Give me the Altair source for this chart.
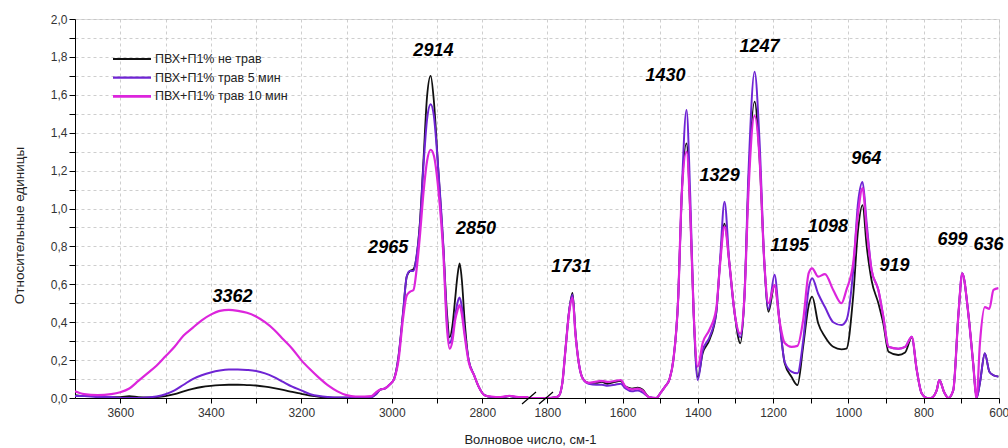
import altair as alt
import pandas as pd

# ---------------- data ----------------
series_names = ["ПВХ+П1% не трав", "ПВХ+П1% трав 5 мин", "ПВХ+П1% трав 10 мин"]
series_colors = ["#111111", "#6f24d4", "#dc25dc"]

# left segment 3700 - 2700 cm-1
wn_left = [3700, 3680, 3650, 3620, 3600, 3580, 3560, 3540, 3520, 3500, 3480, 3460, 3440, 3420,
           3400, 3380, 3360, 3340, 3320, 3300, 3280, 3260, 3240, 3220, 3200, 3180, 3160, 3140,
           3120, 3100, 3080, 3060, 3045, 3035, 3025, 3015, 3005, 2995, 2985, 2975, 2967, 2960,
           2952, 2945, 2938, 2930, 2922, 2914, 2907, 2897, 2886, 2878, 2872, 2866, 2860, 2855,
           2850, 2845, 2839, 2830, 2818, 2808, 2795, 2780, 2760, 2740, 2720, 2700]
black_left = [0.015, 0.01, 0.01, 0.005, 0.005, 0.01, 0.005, 0.003, 0.005, 0.01, 0.02, 0.035, 0.048, 0.058,
              0.064, 0.068, 0.07, 0.07, 0.068, 0.066, 0.06, 0.052, 0.043, 0.032, 0.022, 0.012, 0.006, 0.003,
              0.002, 0.002, 0.003, 0.003, 0.005, 0.02, 0.045, 0.05, 0.07, 0.10, 0.22, 0.45, 0.64, 0.67,
              0.68, 0.75, 0.92, 1.25, 1.59, 1.70, 1.57, 1.20, 0.80, 0.45, 0.32, 0.38, 0.52, 0.64,
              0.71, 0.62, 0.41, 0.20, 0.12, 0.06, 0.015, 0.005, 0.003, 0.01, 0.003, 0.003]
purple_left = [0.01, 0.01, 0.005, 0.005, 0.0, 0.0, 0.0, 0.002, 0.008, 0.02, 0.04, 0.07, 0.10, 0.12,
               0.135, 0.145, 0.15, 0.15, 0.148, 0.143, 0.13, 0.11, 0.085, 0.06, 0.04, 0.02, 0.01, 0.005,
               0.002, 0.002, 0.003, 0.003, 0.005, 0.02, 0.045, 0.05, 0.07, 0.10, 0.22, 0.45, 0.64, 0.67,
               0.67, 0.75, 0.90, 1.22, 1.47, 1.55, 1.49, 1.20, 0.80, 0.40, 0.29, 0.33, 0.43, 0.50,
               0.53, 0.48, 0.35, 0.20, 0.12, 0.06, 0.015, 0.005, 0.003, 0.01, 0.003, 0.003]
magenta_left = [0.035, 0.02, 0.015, 0.02, 0.03, 0.05, 0.09, 0.13, 0.17, 0.22, 0.27, 0.33, 0.37, 0.41,
                0.44, 0.46, 0.465, 0.46, 0.45, 0.43, 0.40, 0.36, 0.31, 0.26, 0.20, 0.15, 0.105, 0.065,
                0.035, 0.015, 0.008, 0.008, 0.01, 0.03, 0.045, 0.05, 0.07, 0.10, 0.20, 0.42, 0.54, 0.56,
                0.57, 0.68, 0.85, 1.08, 1.25, 1.31, 1.28, 1.10, 0.76, 0.37, 0.26, 0.30, 0.41, 0.46,
                0.49, 0.44, 0.33, 0.19, 0.12, 0.06, 0.015, 0.008, 0.005, 0.012, 0.005, 0.005]

# right segment 1850 - 600 cm-1
wn_right = [1850, 1800, 1780, 1770, 1760, 1752, 1742, 1733, 1725, 1716, 1705, 1690, 1670, 1655,
            1640, 1620, 1605, 1592, 1575, 1560, 1547, 1530, 1510, 1498, 1487, 1475, 1465, 1452,
            1443, 1430, 1420, 1411, 1400, 1387, 1369, 1351, 1341, 1329, 1316, 1302, 1287, 1276,
            1265, 1249, 1236, 1223, 1212, 1196, 1183, 1169, 1151, 1135, 1120, 1105, 1096, 1080,
            1062, 1040, 1018, 1005, 987, 974, 962, 951, 938, 920, 907, 893, 867, 849,
            831, 818, 805, 790, 780, 765, 758, 745, 734, 721, 707, 697, 681, 668,
            659, 650, 637, 625, 614, 601]
black_right = [0.0, 0.0, 0.003, 0.01, 0.08, 0.25, 0.46, 0.555, 0.34, 0.18, 0.10, 0.08, 0.08, 0.085,
               0.075, 0.085, 0.09, 0.06, 0.05, 0.055, 0.045, 0.005, 0.0, 0.03, 0.06, 0.10, 0.20, 0.53,
               1.06, 1.344, 0.975, 0.447, 0.11, 0.236, 0.306, 0.447, 0.71, 0.92, 0.71, 0.447, 0.289, 0.535,
               1.15, 1.564, 1.27, 0.71, 0.455, 0.596, 0.41, 0.183, 0.112, 0.068, 0.27, 0.49, 0.535, 0.394,
               0.323, 0.27, 0.257, 0.26, 0.535, 0.887, 1.018, 0.80, 0.62, 0.50, 0.394, 0.244, 0.227, 0.24,
               0.32, 0.148, 0.025, 0.0, 0.0, 0.04, 0.095, 0.03, 0.0, 0.04, 0.447, 0.658, 0.447, 0.183,
               0.0, 0.08, 0.236, 0.139, 0.12, 0.113]
purple_right = [0.0, 0.0, 0.003, 0.01, 0.08, 0.25, 0.46, 0.545, 0.34, 0.18, 0.10, 0.075, 0.07, 0.07,
                0.065, 0.07, 0.075, 0.05, 0.035, 0.04, 0.03, 0.005, 0.0, 0.03, 0.06, 0.10, 0.20, 0.53,
                1.06, 1.52, 1.06, 0.45, 0.095, 0.25, 0.32, 0.45, 0.72, 1.036, 0.71, 0.447, 0.32, 0.535,
                1.20, 1.722, 1.36, 0.71, 0.47, 0.65, 0.41, 0.19, 0.139, 0.13, 0.30, 0.58, 0.632, 0.55,
                0.48, 0.40, 0.385, 0.41, 0.67, 1.03, 1.14, 0.92, 0.675, 0.57, 0.43, 0.27, 0.26, 0.27,
                0.323, 0.148, 0.025, 0.0, 0.0, 0.04, 0.095, 0.03, 0.0, 0.04, 0.447, 0.658, 0.447, 0.183,
                0.0, 0.08, 0.236, 0.139, 0.12, 0.113]
magenta_right = [0.0, 0.0, 0.003, 0.01, 0.08, 0.25, 0.45, 0.53, 0.33, 0.18, 0.10, 0.08, 0.086, 0.09,
                 0.085, 0.09, 0.095, 0.06, 0.045, 0.05, 0.04, 0.005, 0.0, 0.03, 0.06, 0.10, 0.20, 0.53,
                 1.06, 1.30, 0.975, 0.45, 0.165, 0.29, 0.36, 0.47, 0.70, 0.904, 0.71, 0.447, 0.34, 0.535,
                 1.10, 1.49, 1.27, 0.71, 0.50, 0.596, 0.41, 0.29, 0.27, 0.275, 0.41, 0.66, 0.684, 0.64,
                 0.654, 0.57, 0.50, 0.57, 0.71, 0.975, 1.107, 0.886, 0.675, 0.57, 0.43, 0.27, 0.26, 0.27,
                 0.323, 0.148, 0.025, 0.0, 0.0, 0.04, 0.095, 0.03, 0.0, 0.04, 0.447, 0.658, 0.447, 0.183,
                 0.0, 0.29, 0.48, 0.47, 0.57, 0.58]

# peak annotations (label, wavenumber position, value position)
peak_labels = ["3362", "2965", "2914", "2850", "1731", "1430", "1329", "1247", "1195", "1098",
               "964", "919", "699", "636"]
peak_wn = [3352, 3008, 2908, 2814, 1736, 1486, 1342, 1236, 1156, 1054, 952, 877, 723, 627]
peak_val = [0.533, 0.789, 1.831, 0.892, 0.689, 1.699, 1.171, 1.852, 0.802, 0.900, 1.261, 0.694, 0.834, 0.805]

y_ticks = [round(i * 0.1, 1) for i in range(21)]
x_tick_wn_left = list(range(3600, 2700, -100))
x_tick_wn_right = list(range(1800, 500, -100))

# ---------------- broken-axis mapping ----------------
K_LEFT = 0.4525    # px per cm-1, left part
K_RIGHT = 0.3762   # px per cm-1, right part
R_START = 453.5


def to_pos(w):
    return (3700 - w) * K_LEFT if w >= 2200 else R_START + (1850 - w) * K_RIGHT


pos_expr = f"datum.wn >= 2200 ? (3700 - datum.wn) * {K_LEFT} : {R_START} + (1850 - datum.wn) * {K_RIGHT}"

rows = []
for name, lv, rv in zip(series_names,
                        [black_left, purple_left, magenta_left],
                        [black_right, purple_right, magenta_right]):
    for w, v in zip(wn_left + wn_right, lv + rv):
        rows.append({"series": name, "wn": w, "value": v})
df = pd.DataFrame(rows)

lab_df = pd.DataFrame({"label": peak_labels, "wn": peak_wn, "value": peak_val})

x_vals = [round(to_pos(w), 2) for w in x_tick_wn_left + x_tick_wn_right]
wexpr = (f"(datum.value < 453 ? round((3700 - datum.value/{K_LEFT})/100)*100 : "
         f"round((1850 - (datum.value-{R_START})/{K_RIGHT})/100)*100)")
x_label_expr = f"{wexpr} % 200 == 0 ? '' + {wexpr} : ''"
y_label_expr = "round(datum.value*10) % 2 == 0 ? replace(format(datum.value, '.1f'), '.', ',') : ''"

W, H = 924, 379
x_scale = alt.Scale(domain=[0, W], nice=False, zero=False)
y_scale = alt.Scale(domain=[0, 2], nice=False, zero=False)

GRID = "#c2c2c2"


def make_x_axis():
    return alt.Axis(values=x_vals, labelExpr=x_label_expr, title="Волновое число, см-1",
                    grid=True, gridDash=[3, 3], gridColor=GRID, gridWidth=0.8, tickSize=5,
                    labelOverlap=False,
                    labelFontSize=12, titleFontSize=13, titleFontWeight="normal",
                    titlePadding=15, titleX=455, labelColor="#333333", titleColor="#222222",
                    domainColor="#000000", tickColor="#000000", labelFont="Liberation Sans",
                    titleFont="Liberation Sans", labelFlush=False, labelPadding=4)


def make_y_axis():
    return alt.Axis(values=y_ticks, labelExpr=y_label_expr, title="Относительные единицы",
                    grid=True, gridDash=[3, 3], gridColor=GRID, gridWidth=0.8,
                    labelOverlap=False, tickSize=6,
                    labelFontSize=12, titleFontSize=13.5, titleFontWeight="normal",
                    titlePadding=24, titleY=206, labelColor="#333333", titleColor="#222222",
                    domainColor="#000000", tickColor="#000000", labelFont="Liberation Sans",
                    titleFont="Liberation Sans", labelFlush=False)


lines = alt.Chart(df).transform_calculate(pos=pos_expr).mark_line(
    interpolate="monotone", clip=True
).encode(
    x=alt.X("pos:Q", scale=x_scale, axis=make_x_axis()),
    y=alt.Y("value:Q", scale=y_scale, axis=make_y_axis()),
    color=alt.Color("series:N", scale=alt.Scale(domain=series_names, range=series_colors),
                    sort=series_names, legend=None),
    strokeWidth=alt.StrokeWidth("series:N", scale=alt.Scale(domain=series_names, range=[1.8, 2.2, 2.6]),
                                legend=None),
)

labels = alt.Chart(lab_df).transform_calculate(pos=pos_expr).mark_text(
    font="Liberation Sans", fontSize=18,
    fontWeight="bold", fontStyle="italic", color="#000000", align="center", baseline="middle"
).encode(
    x=alt.X("pos:Q", scale=x_scale, axis=make_x_axis()),
    y=alt.Y("value:Q", scale=y_scale, axis=make_y_axis()),
    text="label:N",
)

brk_df = pd.DataFrame({"x": [447.0, 464.0], "x2": [461.0, 478.0], "y": [-0.032, -0.032], "y2": [0.032, 0.032]})
breaks = alt.Chart(brk_df).mark_rule(color="#000000", strokeWidth=1.2, clip=False).encode(
    x=alt.X("x:Q", scale=x_scale, axis=make_x_axis()), x2="x2:Q",
    y=alt.Y("y:Q", scale=y_scale, axis=make_y_axis()), y2="y2:Q",
)

# manual legend (line sample + label), placed inside the plot at the upper left
legend_layers = []
for i, (name, col, sw) in enumerate(zip(series_names, series_colors, [1.8, 2.2, 2.6])):
    yy = 40 + i * 18.7
    legend_layers.append(
        alt.Chart(pd.DataFrame({"t": [name]})).mark_rule(color=col, strokeWidth=sw).encode(
            x=alt.value(38), x2=alt.value(76), y=alt.value(yy)))
    legend_layers.append(
        alt.Chart(pd.DataFrame({"t": [name]})).mark_text(
            align="left", baseline="middle", fontSize=12.5, font="Liberation Sans", color="#222222"
        ).encode(x=alt.value(80), y=alt.value(yy), text="t:N"))

chart = alt.layer(lines, labels, breaks, *legend_layers).properties(
    width=W, height=H,
    autosize=alt.AutoSizeParams(type="none"),
    padding={"left": 75, "top": 19, "right": 9, "bottom": 50},
).configure_view(stroke="#666666", strokeWidth=1).configure(background="white")

chart.save("out.html", embed_options={"renderer": "svg", "actions": False})
